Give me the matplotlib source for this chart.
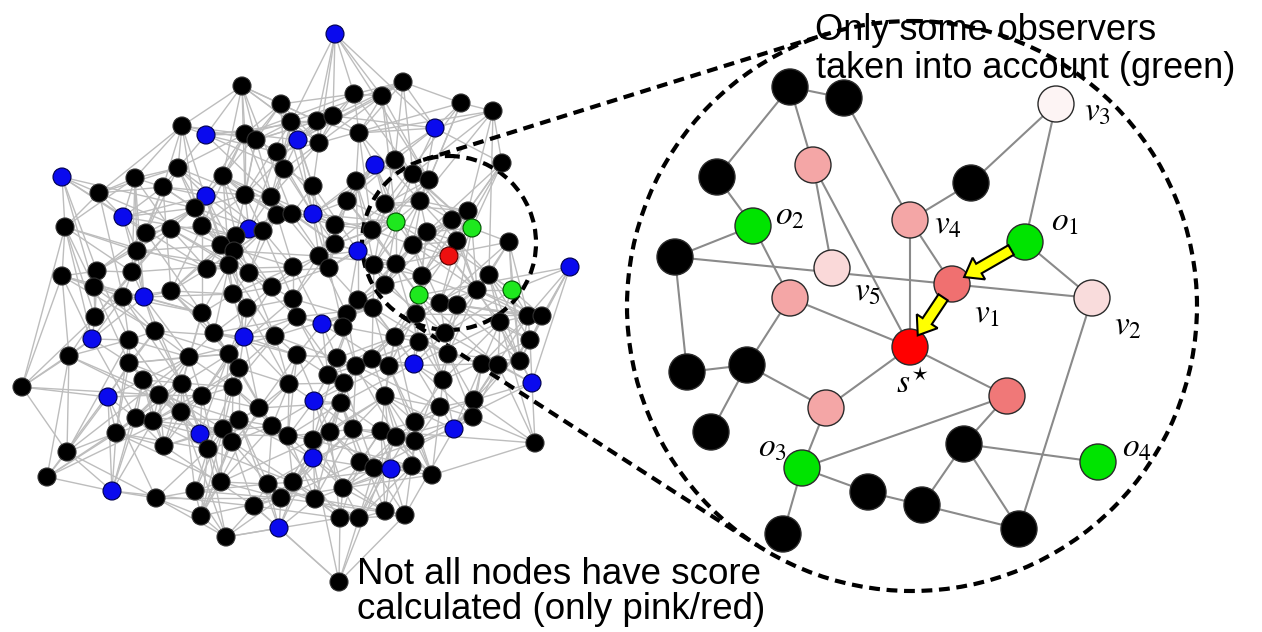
import numpy as np
import matplotlib.pyplot as plt
from matplotlib.patches import Circle, FancyArrow
from matplotlib.collections import LineCollection

plt.rcParams['font.family'] = ['Liberation Sans', 'DejaVu Sans']
plt.rcParams['mathtext.fontset'] = 'stix'

# ---- left: whole network (pixel positions) ----
# kind: b = black, u = blue, g = green observer, r = red source
left_nodes = [
    (242, 86, 'b'), (281, 104, 'b'), (291, 122, 'b'), (182, 126, 'b'), (206, 135, 'u'),
    (245, 134, 'b'), (256, 140, 'b'), (298, 140, 'u'), (277, 152, 'b'), (284, 169, 'b'),
    (178, 168, 'b'), (223, 176, 'b'), (62, 177, 'u'), (135, 178, 'b'), (163, 187, 'b'),
    (99, 193, 'b'), (206, 196, 'u'), (245, 195, 'b'), (271, 197, 'b'),
    (335, 34, 'u'), (403, 82, 'b'), (354, 94, 'b'), (382, 96, 'b'), (461, 103, 'b'),
    (493, 111, 'b'), (317, 121, 'b'), (333, 116, 'b'), (319, 143, 'b'), (359, 133, 'b'),
    (435, 128, 'u'), (313, 186, 'b'), (356, 181, 'b'), (375, 165, 'u'), (395, 160, 'b'),
    (413, 174, 'b'), (429, 180, 'b'), (502, 163, 'b'), (347, 201, 'b'), (420, 201, 'b'),
    (385, 204, 'b'),
    (123, 217, 'u'), (195, 208, 'b'), (65, 227, 'b'), (146, 233, 'b'), (171, 229, 'b'),
    (202, 226, 'b'), (249, 229, 'u'), (263, 231, 'b'), (277, 215, 'b'), (292, 214, 'b'),
    (236, 236, 'b'), (221, 245, 'b'), (234, 251, 'b'), (137, 251, 'b'), (62, 276, 'b'),
    (97, 271, 'b'), (132, 272, 'b'), (207, 269, 'b'), (229, 265, 'b'), (249, 273, 'b'),
    (293, 267, 'b'), (94, 287, 'b'), (123, 297, 'b'), (144, 297, 'u'), (171, 291, 'b'),
    (233, 294, 'b'), (272, 287, 'b'), (293, 299, 'b'), (95, 317, 'b'), (202, 313, 'b'),
    (247, 308, 'b'), (297, 317, 'b'), (92, 339, 'u'), (129, 340, 'b'), (155, 331, 'b'),
    (214, 333, 'b'), (244, 337, 'u'), (275, 336, 'b'), (69, 356, 'b'), (129, 363, 'b'),
    (189, 357, 'b'), (229, 354, 'b'), (239, 368, 'b'), (297, 355, 'b'), (22, 387, 'b'),
    (143, 380, 'b'), (182, 384, 'b'), (233, 387, 'b'), (289, 384, 'b'),
    (313, 214, 'u'), (468, 211, 'b'), (396, 222, 'g'), (452, 220, 'b'), (472, 228, 'g'),
    (335, 225, 'b'), (372, 230, 'b'), (427, 232, 'b'), (457, 241, 'b'), (509, 242, 'b'),
    (335, 244, 'b'), (358, 251, 'u'), (413, 245, 'b'), (449, 256, 'r'), (319, 256, 'b'),
    (329, 268, 'b'), (374, 265, 'b'), (396, 264, 'b'), (422, 276, 'b'), (489, 275, 'b'),
    (570, 267, 'u'), (385, 285, 'b'), (477, 290, 'b'), (419, 295, 'g'), (512, 290, 'g'),
    (358, 300, 'b'), (373, 308, 'b'), (440, 303, 'b'), (457, 305, 'b'), (347, 314, 'b'),
    (322, 324, 'u'), (343, 327, 'b'), (416, 314, 'b'), (500, 322, 'b'), (528, 316, 'b'),
    (542, 316, 'b'), (395, 337, 'b'), (419, 342, 'b'), (445, 333, 'b'), (530, 340, 'b'),
    (337, 358, 'b'), (356, 366, 'b'), (372, 359, 'b'), (389, 366, 'b'), (414, 364, 'u'),
    (448, 354, 'b'), (482, 364, 'b'), (498, 365, 'b'), (520, 361, 'b'), (328, 375, 'b'),
    (344, 383, 'b'), (443, 380, 'b'), (532, 383, 'u'),
    (108, 397, 'u'), (159, 395, 'b'), (202, 396, 'b'), (136, 418, 'b'), (153, 421, 'b'),
    (181, 412, 'b'), (200, 434, 'u'), (223, 429, 'b'), (239, 420, 'b'), (259, 408, 'b'),
    (272, 426, 'b'), (288, 436, 'b'), (116, 433, 'b'), (67, 452, 'b'), (164, 446, 'b'),
    (208, 449, 'b'), (232, 442, 'b'), (47, 477, 'b'), (112, 491, 'u'), (156, 498, 'b'),
    (195, 491, 'b'), (221, 482, 'b'), (268, 484, 'b'), (293, 482, 'b'), (281, 498, 'b'),
    (254, 506, 'b'), (201, 516, 'b'), (279, 528, 'u'), (226, 537, 'b'),
    (314, 401, 'u'), (341, 403, 'b'), (385, 396, 'b'), (474, 400, 'b'), (440, 407, 'b'),
    (415, 422, 'b'), (473, 417, 'b'), (454, 429, 'u'), (330, 432, 'b'), (353, 429, 'b'),
    (381, 431, 'b'), (396, 437, 'b'), (415, 441, 'b'), (313, 440, 'b'), (535, 443, 'b'),
    (313, 458, 'u'), (360, 462, 'b'), (374, 468, 'b'), (391, 469, 'u'), (412, 466, 'b'),
    (432, 475, 'b'), (315, 499, 'b'), (343, 488, 'b'), (340, 518, 'b'), (359, 518, 'b'),
    (385, 511, 'b'), (405, 515, 'b'), (339, 582, 'b'),
]
left_x = [n[0] for n in left_nodes]
left_y = [n[1] for n in left_nodes]
left_kind = [n[2] for n in left_nodes]

# neighbour ranks used to wire the left graph (short + longer crossing links)
link_ranks = (1, 2, 3, 6, 10, 16, 25)

# ---- right: zoomed neighbourhood ----
zoom_names = ['a', 'b', 'c', 'd', 'o2', 'e', 'v5', 'f', 'v4', 'v1', 'o1', 'v3', 'g',
              'v2', 's', 'h', 'i', 'j', 'k', 'o3', 'l', 'm', 'n', 'p', 'q', 't', 'o4']
zoom_x = [790, 844, 717, 813, 753, 675, 832, 790, 910, 952, 1025, 1056, 971,
          1092, 910, 687, 747, 711, 826, 802, 868, 922, 783, 1007, 964, 1019, 1098]
zoom_y = [87, 98, 177, 165, 226, 257, 268, 298, 220, 284, 242, 104, 183,
          298, 347, 372, 365, 432, 408, 468, 492, 505, 534, 396, 444, 529, 462]
zoom_fill = ['#000000', '#000000', '#000000', '#f4a6a6', '#00e400', '#000000', '#fad9d9',
             '#f4a6a6', '#f4a6a6', '#f07070', '#00e400', '#fdf4f4', '#000000',
             '#f9dcdc', '#ff0000', '#000000', '#000000', '#000000', '#f4a6a6', '#00e400',
             '#000000', '#000000', '#000000', '#f07878', '#000000', '#000000', '#00e400']
zoom_edges = [('a', 'b'), ('a', 'c'), ('a', 'd'), ('b', 'v4'), ('c', 'o2'), ('o2', 'e'),
              ('o2', 'f'), ('e', 'v2'), ('d', 'v5'), ('d', 's'), ('f', 's'), ('v4', 's'),
              ('v4', 'v1'), ('v4', 'g'), ('g', 'v3'), ('v3', 'o1'), ('o1', 'v2'),
              ('v2', 't'), ('f', 'i'), ('e', 'h'), ('h', 'i'), ('i', 'j'), ('i', 'k'),
              ('k', 's'), ('k', 'o3'), ('o3', 'p'), ('o3', 'l'), ('l', 'm'), ('m', 'q'),
              ('q', 'p'), ('q', 'o4'), ('q', 't'), ('m', 't'), ('o3', 'n'), ('s', 'p'),
              ('o1', 'v1'), ('v1', 's')]
score_path = [('o1', 'v1'), ('v1', 's')]
zoom_labels = {'o2': r'$o_2$', 'v5': r'$v_5$', 'v4': r'$v_4$', 'o1': r'$o_1$',
               'v3': r'$v_3$', 'v1': r'$v_1$', 'v2': r'$v_2$', 's': r'$s^{\star}$',
               'o3': r'$o_3$', 'o4': r'$o_4$'}
label_offset = {'o2': (22, -10), 'v5': (22, 24), 'v4': (24, 5), 'o1': (26, -20),
                'v3': (28, 8), 'v1': (22, 30), 'v2': (22, 28), 's': (-14, 36),
                'o3': (-44, -20), 'o4': (24, -14)}

# magnifier geometry: small circle on the left graph, big circle on the right
small_c, small_r = (449, 243), 87
big_c, big_r = (912, 306), 285

fig = plt.figure(figsize=(12.62, 6.32), dpi=100)
ax = fig.add_axes([0, 0, 1, 1])
ax.set_xlim(0, 1262)
ax.set_ylim(632, 0)
ax.axis('off')

# left graph
pts = np.column_stack([left_x, left_y]).astype(float)
dist = np.hypot(pts[:, None, 0] - pts[None, :, 0], pts[:, None, 1] - pts[None, :, 1])
order = np.argsort(dist, axis=1)
edges = set()
for i in range(len(pts)):
    for rk in link_ranks:
        j = order[i, rk]
        edges.add((min(i, j), max(i, j)))
segs = [[pts[i], pts[j]] for i, j in sorted(edges)]
ax.add_collection(LineCollection(segs, colors='#bdbdbd', linewidths=1.0, zorder=1))

kind_style = {'b': ('#000000', '#303030'), 'u': ('#0a0aee', '#00004a'),
              'g': ('#1ee81e', '#005000'), 'r': ('#ee1010', '#500000')}
for x, y, k in zip(left_x, left_y, left_kind):
    fc, ec = kind_style[k]
    ax.add_patch(Circle((x, y), 9, fc=fc, ec=ec, lw=0.8, zorder=3))

# dashed magnifier
dash = (0, (2.6, 1.6))
ax.add_patch(Circle(small_c, small_r, fill=False, ec='black', lw=3, ls=dash, zorder=2))
ax.add_patch(Circle(big_c, big_r, fill=False, ec='black', lw=3, ls=dash, zorder=2))
dx, dy = big_c[0] - small_c[0], big_c[1] - small_c[1]
phi = np.arctan2(dy, dx)
alpha = np.arccos((small_r - big_r) / np.hypot(dx, dy))
for th in (phi - alpha, phi + alpha):
    n = np.array([np.cos(th), np.sin(th)])
    p1 = np.array(small_c) + small_r * n
    p2 = np.array(big_c) + big_r * n
    ax.plot([p1[0], p2[0]], [p1[1], p2[1]], color='black', lw=3, ls=dash, zorder=2)

# right graph
zpos = {nm: (x, y) for nm, x, y in zip(zoom_names, zoom_x, zoom_y)}
zsegs = [[zpos[u], zpos[v]] for u, v in zoom_edges]
ax.add_collection(LineCollection(zsegs, colors='#8a8a8a', linewidths=1.5, zorder=1))
node_r = 18
for nm, x, y, fc in zip(zoom_names, zoom_x, zoom_y, zoom_fill):
    ax.add_patch(Circle((x, y), node_r, fc=fc, ec='#2a2a2a', lw=1.0, zorder=3))

for u, v in score_path:
    (x0, y0), (x1, y1) = zpos[u], zpos[v]
    L = np.hypot(x1 - x0, y1 - y0)
    ux, uy = (x1 - x0) / L, (y1 - y0) / L
    sx, sy = x0 + ux * (node_r - 2), y0 + uy * (node_r - 2)
    ln = L - 2 * node_r + 6
    ax.add_patch(FancyArrow(sx, sy, ux * ln, uy * ln, width=11, head_width=25,
                            head_length=17, length_includes_head=True,
                            fc='#ffff00', ec='black', lw=1.5, zorder=4))

for nm, lab in zoom_labels.items():
    ox, oy = label_offset[nm]
    ax.text(zpos[nm][0] + ox, zpos[nm][1] + oy, lab, fontsize=24, ha='left',
            va='center', zorder=5)

# callouts
ax.text(815, 40, 'Only some observers', fontsize=26, ha='left', va='baseline', zorder=6)
ax.text(816, 78, 'taken into account (green)', fontsize=26, ha='left', va='baseline', zorder=6)
ax.text(357, 584, 'Not all nodes have score', fontsize=26.5, ha='left', va='baseline', zorder=6)
ax.text(357, 619, 'calculated (only pink/red)', fontsize=26.5, ha='left', va='baseline', zorder=6)

fig.savefig('out.png', dpi=100)
